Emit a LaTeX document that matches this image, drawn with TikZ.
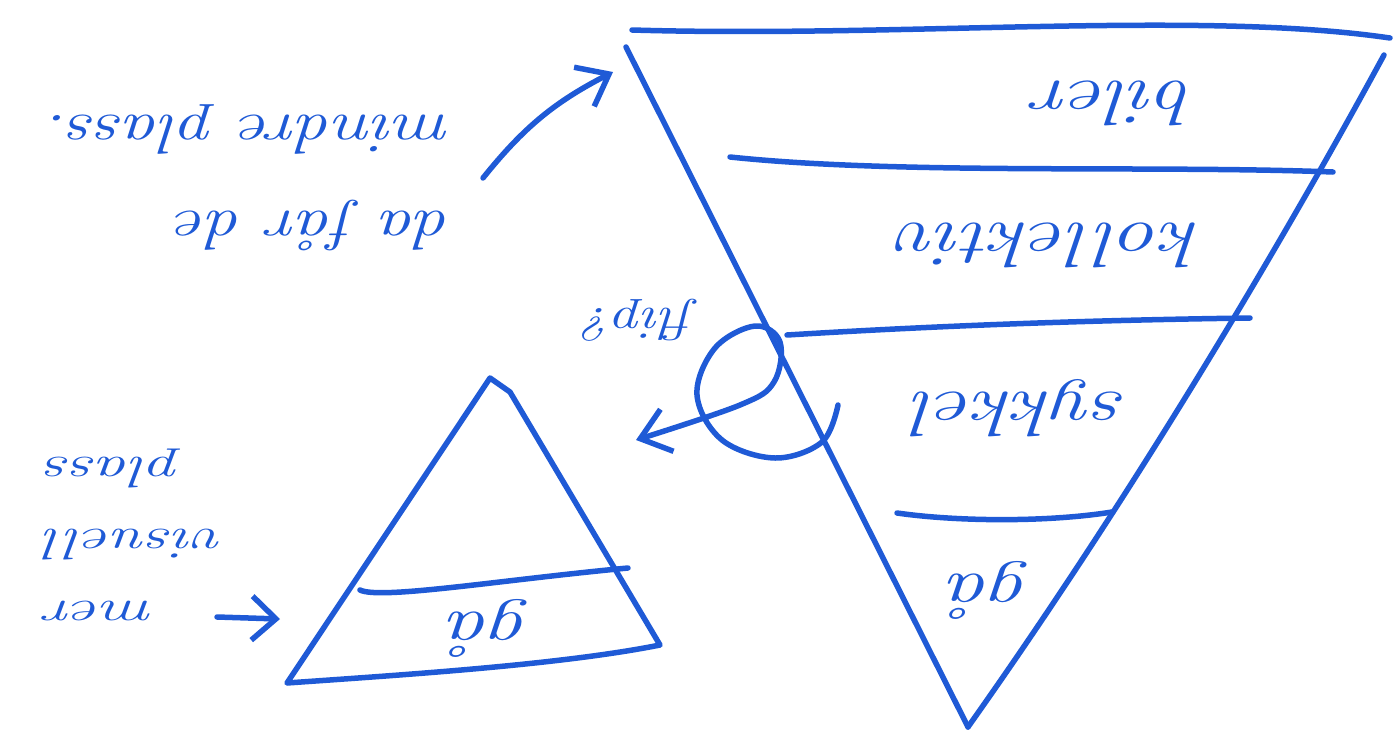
\documentclass[tikz,border=0pt]{standalone}
\usepackage{fontspec}
\usetikzlibrary{arrows.meta}
\definecolor{inkblue}{HTML}{1F5AD6}

\begin{document}
\begin{tikzpicture}[
    x=1pt, y=-1pt,
    line width=5.5pt,
    line cap=round, line join=round,
    pen/.style={draw=inkblue},
    barb/.style={-{Straight Barb[length=28pt, width=44pt, line width=5.5pt]}},
    word/.style={text=inkblue, rotate=180, inner sep=0pt, xscale=1.35,
        font=\fontsize{64}{70}\selectfont\itshape},
    remark/.style={text=inkblue, rotate=180, inner sep=0pt,
        font=\fontsize{56}{96}\selectfont\itshape}
]
    \useasboundingbox (0,0) rectangle (1393,747);

    % Grid alignment (pixels, y downwards):
    % big funnel apex at (968, 727), rim at y = 30
    % small pyramid apex at (490, 378)

    % 1. Big funnel
    \draw[pen] (632,30) .. controls (900,38) and (1200,10) .. (1390,38);
    \draw[pen] (626,47) -- (968,727);
    \draw[pen] (1384,55) .. controls (1300,210) and (1150,470) .. (968,727);
    % layer lines
    \draw[pen] (730,157) .. controls (900,175) and (1150,165) .. (1333,172);
    \draw[pen] (787,335) .. controls (950,325) and (1100,320) .. (1250,318);
    \draw[pen] (897,513) .. controls (960,522) and (1050,522) .. (1112,512);

    \node[word] (biler) at (1115,103) {biler};
    \node[word] (kollektiv) at (1050,245) {kollektiv};
    \node[word] (sykkel) at (1022,408) {sykkel};
    \node[word] (gaBig) at (990,590) {gå};

    % 2. Small pyramid
    \draw[pen] (490,378) -- (510,392) -- (660,645)
        .. controls (560,665) and (400,675) .. (287,683) -- cycle;
    \draw[pen] (360,590) .. controls (380,600) and (500,580) .. (628,568);
    \node[word] (gaSmall) at (490,628) {gå};

    % 3. Flip loop from funnel to pyramid
    \node[word, xscale=0.95, font=\fontsize{46}{50}\selectfont\itshape] (flip) at (640,320) {flip?};
    \coordinate (loopStart) at (838,405);
    \coordinate (pyrTip) at (636,440);
    \draw[pen, barb] plot[smooth, tension=0.6] coordinates {(loopStart) (822,442) (775,458) (722,440)
        (697,395) (715,348) (755,326) (780,342) (774,382) (740,405) (pyrTip)};

    % 4. Side remarks
    \node[remark, align=left, xscale=1.28] (note) at (250,178) {da får de\\mindre plass.};
    \coordinate (noteEnd) at (483,178);
    \coordinate (rimTip) at (613,72);
    \draw[pen, barb] (noteEnd) to[bend left=12] (rimTip);

    \node[remark, align=right, xscale=1.5, font=\fontsize{44}{72}\selectfont\itshape] (visual) at (135,535) {mer\\visuell\\plass};
    \coordinate (visualEnd) at (217,617);
    \coordinate (pyrSide) at (280,619);
    \draw[pen, -{Straight Barb[length=24pt, width=44pt, line width=5.5pt]}] (visualEnd) -- (pyrSide);

\end{tikzpicture}
\end{document}
